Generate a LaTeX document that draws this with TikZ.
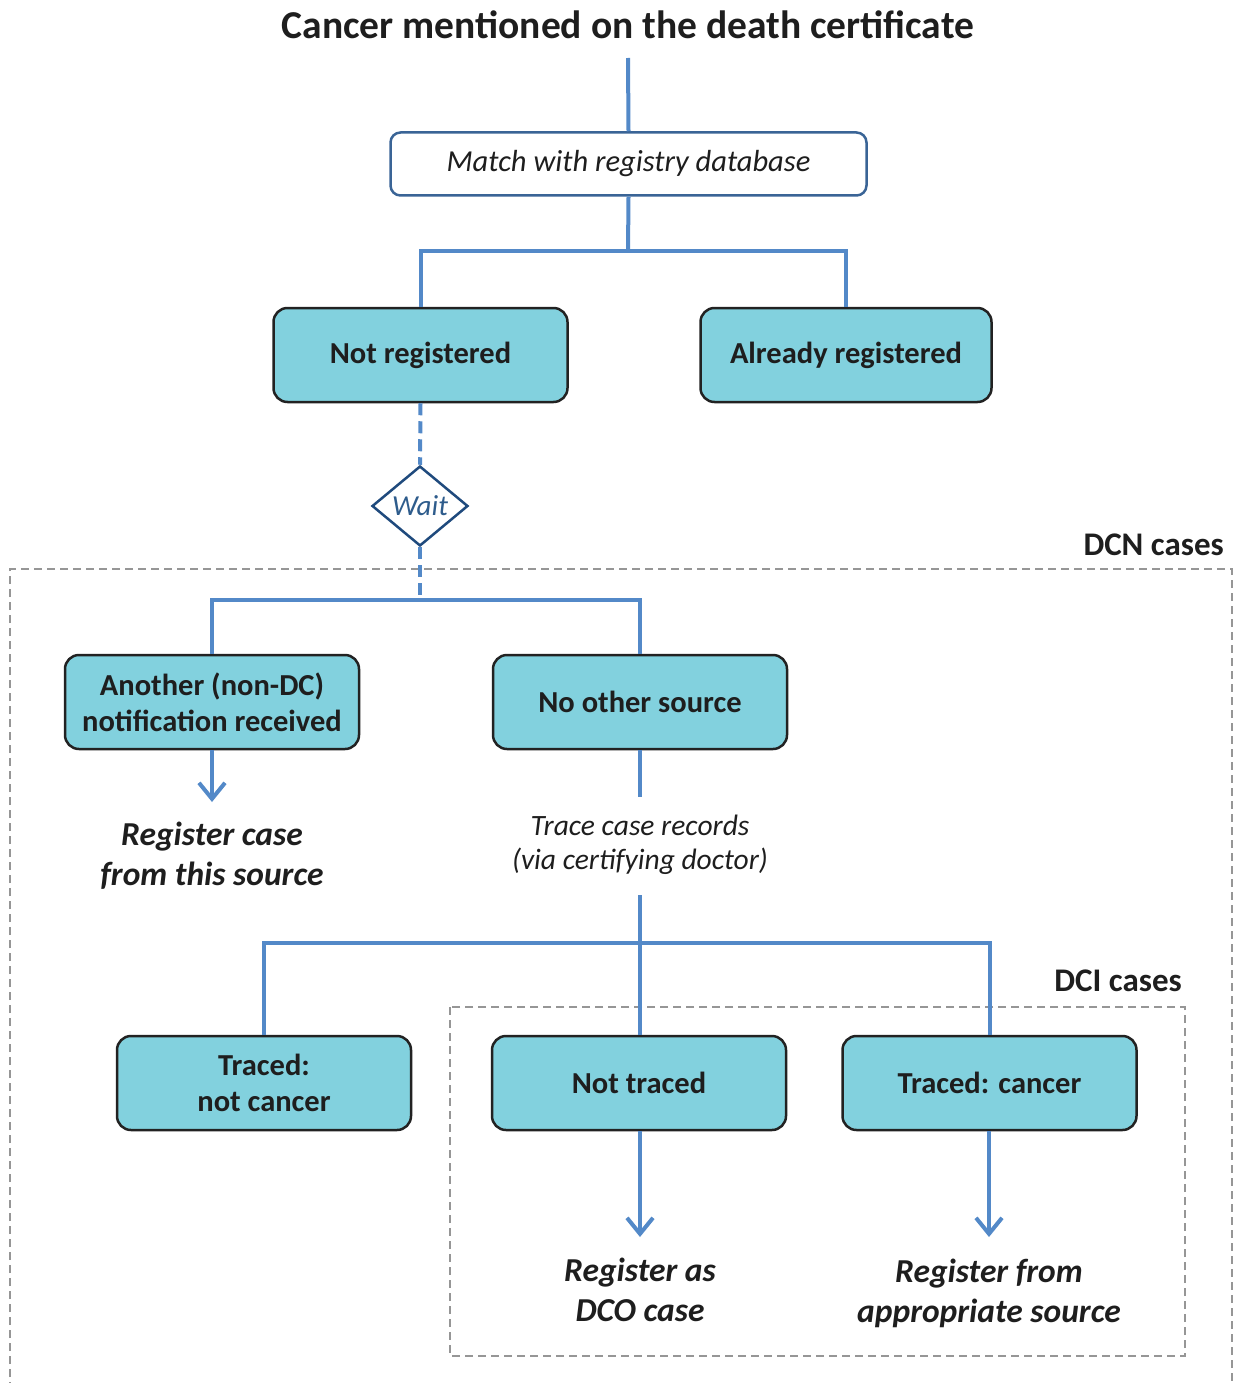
\documentclass[tikz,border=0pt]{standalone}
\usepackage{fontspec}
\setmainfont{Carlito}
\usetikzlibrary{arrows.meta,shapes.geometric}
\definecolor{lineblue}{RGB}{83,137,200}
\definecolor{boxfill}{RGB}{130,209,222}
\definecolor{boxline}{RGB}{34,34,34}
\definecolor{navy}{RGB}{31,74,125}
\definecolor{waitblue}{RGB}{46,92,140}
\definecolor{matchline}{RGB}{58,100,150}
\definecolor{dashgray}{RGB}{150,150,150}
\definecolor{txt}{RGB}{30,30,30}
\tikzset{
  box/.style={draw=boxline, line width=2.5pt, fill=boxfill, rounded corners=14pt,
    minimum width=294pt, minimum height=94pt, align=center, inner sep=0pt,
    text=txt, font=\fontsize{30.5}{36}\selectfont\bfseries},
  conn/.style={draw=lineblue, line width=4pt},
  dconn/.style={conn, dash pattern=on 12pt off 6pt},
  arr/.style={conn, -{Straight Barb[length=16pt,width=26pt]}},
  note/.style={align=center, text=txt, inner sep=0pt, font=\fontsize{29.5}{34}\selectfont\itshape},
  outcome/.style={align=center, text=txt, inner sep=0pt, font=\fontsize{33.5}{40}\selectfont\bfseries\itshape},
  region/.style={draw=dashgray, line width=1.6pt, dash pattern=on 8pt off 5pt},
  regionlabel/.style={anchor=east, inner sep=0pt, text=txt, font=\fontsize{33}{38}\selectfont\bfseries},
}
\begin{document}
\begin{tikzpicture}[x=1pt,y=-1pt]
\useasboundingbox (0,0) rectangle (1235,1383);
% regions
\draw[region] (10,1390) -- (10,569) -- (1232,569) -- (1232,1390);
\draw[region] (450,1007) rectangle (1185,1356);
\node[regionlabel] (dcnlab) at (1224,545) {DCN cases};
\node[regionlabel] (dcilab) at (1182,981) {DCI cases};
% title
\node[inner sep=0pt, text=txt, font=\fontsize{39.5}{44}\selectfont\bfseries] (title) at (628,25) {Cancer mentioned on the death certificate};
\coordinate (t0) at (628,58);
% match
\node[draw=matchline, line width=2.5pt, fill=white, rounded corners=10pt, minimum width=476pt, minimum height=63pt,
  inner sep=0pt, text=txt, font=\fontsize{30.5}{34}\selectfont\itshape] (match) at (628.5,164) {Match with registry database};
\node[box] (notreg) at (420.5,355) {Not registered};
\node[box, minimum width=291pt] (already) at (846,355) {Already registered};
\node[diamond, draw=navy, line width=2.5pt, fill=white, minimum width=96pt, minimum height=80pt, inner sep=0pt,
  text=waitblue, font=\fontsize{29}{32}\selectfont\itshape] (wait) at (420,506) {Wait};
\node[box] (another) at (212,702) {Another (non-DC)\\notification received};
\node[box] (noother) at (640,702) {No other source};
\node[outcome] (regthis) at (212,856) {Register case\\from this source};
\node[note] (trace) at (640,845) {Trace case records\\(via certifying doctor)};
\node[box] (tracednc) at (264,1083) {Traced:\\not cancer};
\node[box] (nottraced) at (639,1083) {Not traced};
\node[box] (tracedc) at (989.5,1083) {Traced: cancer};
\node[outcome] (regdco) at (640,1290) {Register as\\DCO case};
\node[outcome] (regapp) at (989,1293) {Register from\\appropriate source};
% connectors
\draw[conn] (t0) -- (match.north);
\coordinate (j1) at (628,251);
\draw[conn] (match.south) -- (j1);
\draw[conn, line join=miter] (notreg.north) |- (j1) -| (already.north);
\draw[dconn] (notreg.south) -- (wait.north);
\coordinate (j2) at (420,600);
\draw[dconn] (wait.south) -- (j2);
\draw[conn, line join=miter] (another.north) |- (j2) -| (noother.north);
\coordinate (a1) at (212,802);
\draw[arr] (another.south) -- (a1);
\coordinate (t1) at (640,797);
\draw[conn] (noother.south) -- (t1);
\coordinate (t2) at (640,895);
\coordinate (j3) at (640,943);
\draw[conn] (t2) -- (nottraced.north -| t2);
\draw[conn, line join=miter] (tracednc.north) |- (j3) -| (tracedc.north);
\coordinate (a2) at (640,1237);
\coordinate (a3) at (989,1237);
\draw[arr] (nottraced.south -| a2) -- (a2);
\draw[arr] (tracedc.south -| a3) -- (a3);
\end{tikzpicture}
\end{document}
